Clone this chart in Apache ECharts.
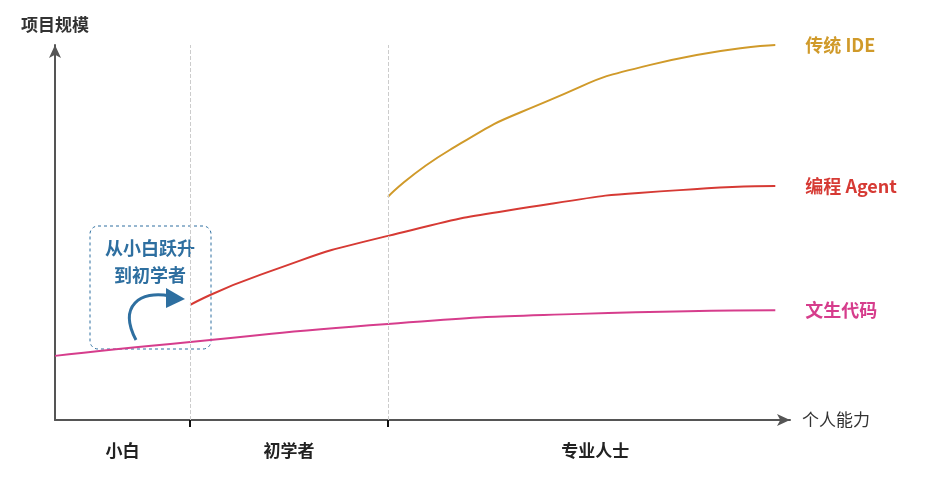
<!DOCTYPE html>
<html>
<head>
<meta charset="UTF-8" />
<script src="https://cdn.jsdelivr.net/npm/echarts@6/dist/echarts.min.js"></script>
<style>body{margin:0;background:#fff}</style>
</head>
<body>
<div id="chartmain" style="width:925px;height:479px;"></div>
<script>
// data
var stageNames = ['小白', '初学者', '专业人士'];
var stageMid = [9.2, 31.85, 73.5];
var stageEdges = [18.4, 45.3];
var textGenData = [[0, 17.1], [18.4, 20.8], [45.3, 25.6], [71.4, 28.3], [98, 29.3]];
var agentData = [[18.4, 30.7], [27.9, 38.7], [45.3, 49.1], [67.3, 57.6], [85, 61.3], [98, 62.4]];
var ideData = [[45.3, 59.5], [53.7, 72], [67.3, 85.3], [81, 94.7], [98, 100]];

var font = '"Noto Sans CJK SC", sans-serif';
function mkSeries(name, data, color, extra) {
  var s = {
    name: name, type: 'line', data: data, smooth: 0.6, symbol: 'none',
    lineStyle: { color: color, width: 2 },
    endLabel: { show: true, formatter: name, color: color, fontSize: 18, fontWeight: 'bold', fontFamily: font, distance: 30 }
  };
  return Object.assign(s, extra || {});
}

var option = {
  animation: false,
  grid: { left: 55, top: 45, width: 735, height: 375 },
  xAxis: {
    type: 'value', min: 0, max: 100,
    name: '个人能力', nameGap: 12, nameTextStyle: { color: '#333', fontSize: 17, fontFamily: font },
    splitLine: { show: false },
    axisLine: { lineStyle: { color: '#555', width: 2 }, symbol: ['none', 'arrow'], symbolSize: [9, 13] },
    axisTick: { customValues: stageEdges, length: 7, lineStyle: { color: '#111', width: 2 } },
    axisLabel: {
      customValues: stageMid, margin: 22, fontSize: 17, fontWeight: 'bold', color: '#222', fontFamily: font,
      formatter: function (v) { var i = stageMid.indexOf(v); return i >= 0 ? stageNames[i] : ''; }
    }
  },
  yAxis: {
    type: 'value', min: 0, max: 100,
    name: '项目规模', nameGap: 12, nameTextStyle: { color: '#333', fontSize: 17, fontWeight: 'bold', fontFamily: font, align: 'center' },
    splitLine: { show: false }, axisTick: { show: false }, axisLabel: { show: false },
    axisLine: { show: true, lineStyle: { color: '#555', width: 2 }, symbol: ['none', 'arrow'], symbolSize: [9, 13] }
  },
  series: [
    mkSeries('传统 IDE', ideData, '#d09a2a'),
    mkSeries('编程 Agent', agentData, '#d63a34'),
    mkSeries('文生代码', textGenData, '#d63d8c', {
      markLine: {
        silent: true, symbol: 'none', label: { show: false },
        lineStyle: { color: '#ccc', type: 'dashed', width: 1 },
        data: stageEdges.map(function (v) { return [{ coord: [v, 0] }, { coord: [v, 100] }]; })
      }
    })
  ],
  graphic: [
    { type: 'rect', shape: { x: 90, y: 226, width: 121, height: 123, r: 8 },
      style: { fill: 'none', stroke: '#2e6fa0', lineDash: [3, 3], lineWidth: 1 } },
    { type: 'text', x: 150, y: 235, style: { text: '从小白跃升\n到初学者', fill: '#2e6fa0', font: 'bold 18px ' + font, align: 'center', lineHeight: 27 } },
    { type: 'bezierCurve', shape: { x1: 136, y1: 340, x2: 170, y2: 296, cpx1: 118, cpy1: 306, cpx2: 140, cpy2: 290 },
      style: { stroke: '#2e6fa0', lineWidth: 3, fill: 'none' } },
    { type: 'polygon', shape: { points: [[166, 288], [185, 299], [166, 308]] }, style: { fill: '#2e6fa0' } }
  ]
};
var myChart = echarts.init(document.getElementById('chartmain'));
myChart.setOption(option);
</script>
</body>
</html>
